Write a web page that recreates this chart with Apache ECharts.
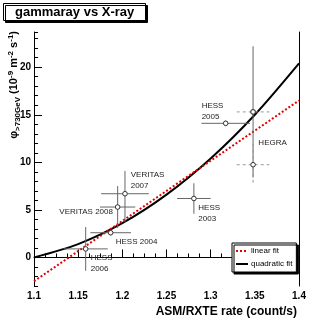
<!DOCTYPE html>
<html>
<head>
<meta charset="utf-8">
<script src="https://cdn.jsdelivr.net/npm/echarts@6/dist/echarts.min.js"></script>
<style>
html, body { margin: 0; padding: 0; background: #fff; }
#chart { width: 332px; height: 322px; }
</style>
</head>
<body>
<div id="chart"></div>
<script>
// fitted curves
const linX = [1.1, 1.4];
const linY = [-2.5, 16.5];
const quadX = [1.1, 1.15, 1.2, 1.25, 1.3, 1.35, 1.4];
const quadY = [0.0, 1.4, 3.6, 6.6, 10.4, 15.0, 20.4];

// measurements, solid error bars
const ptX    = [1.1585, 1.1868, 1.1947, 1.203, 1.281, 1.317, 1.348];
const ptY    = [0.9, 2.6, 5.3, 6.7, 6.2, 14.1, 15.3];
const ptXErr = [0.025, 0.023, 0.02, 0.027, 0.019, 0.0275, 0];
const ptYLo  = [2.3, 0.3, 2.2, 3.0, 1.6, 0.3, 6.9];
const ptYHi  = [2.3, 0.3, 2.2, 2.4, 1.6, 0.3, 6.9];

// HEGRA, dashed error bars
const hegX    = [1.348, 1.348];
const hegY    = [9.75, 15.3];
const hegXErr = [0.0185, 0.0185];
const hegYErr = [2.2, 0];

// point labels: x, y of first line, text, alignment
const notes = [
  [1.2898, 15.9, 'HESS\n2005', 'left'],
  [1.354, 12.1, 'HEGRA', 'left'],
  [1.2095, 8.7, 'VERITAS\n2007', 'left'],
  [1.1894, 4.75, 'VERITAS 2008', 'right'],
  [1.1925, 1.6, 'HESS 2004', 'left'],
  [1.1642, 0.0, 'HESS\n2006', 'left'],
  [1.286, 5.2, 'HESS\n2003', 'left']
];

const xTicks = [1.1, 1.15, 1.2, 1.25, 1.3, 1.35, 1.4];
const yTicks = [0, 5, 10, 15, 20];

const FONT = 'Liberation Sans';

function errorBars(dashed, color) {
  return function (params, api) {
    const x = api.value(0), y = api.value(1);
    const xe = api.value(2), ylo = api.value(3), yhi = api.value(4);
    const c = api.coord([x, y]);
    const l = api.coord([x - xe, y]);
    const r = api.coord([x + xe, y]);
    const t = api.coord([x, y + yhi]);
    const b = api.coord([x, y - ylo]);
    const st = { stroke: color, lineWidth: 1, lineDash: dashed ? [3, 3] : null };
    const kids = [];
    if (xe > 0) kids.push({ type: 'line', shape: { x1: l[0], y1: c[1], x2: r[0], y2: c[1] }, style: st });
    if (ylo > 0 || yhi > 0) kids.push({ type: 'line', shape: { x1: c[0], y1: t[1], x2: c[0], y2: b[1] }, style: st });
    kids.push({ type: 'circle', shape: { cx: c[0], cy: c[1], r: 2.3 }, style: { fill: '#fff', stroke: '#333', lineWidth: 1 } });
    return { type: 'group', children: kids };
  };
}

const chart = echarts.init(document.getElementById('chart'));
chart.setOption({
  animation: false,
  backgroundColor: '#fff',
  title: {
    text: 'gammaray vs X-ray',
    left: 3, top: 3,
    padding: [2, 12, 2, 12],
    borderColor: '#000', borderWidth: 1,
    backgroundColor: '#fff',
    shadowColor: '#000', shadowOffsetX: 2, shadowOffsetY: 2, shadowBlur: 0,
    textStyle: { fontFamily: FONT, fontSize: 13, fontWeight: 'bold', color: '#000', lineHeight: 14 }
  },
  legend: {
    orient: 'vertical',
    left: 232, top: 243,
    padding: [4, 4, 4, 3],
    itemGap: 5,
    itemWidth: 12, itemHeight: 8,
    backgroundColor: '#fff',
    borderColor: '#000', borderWidth: 1, borderRadius: 0,
    shadowColor: '#000', shadowOffsetX: 2, shadowOffsetY: 2, shadowBlur: 0,
    itemStyle: { opacity: 0 },
    textStyle: { fontFamily: FONT, fontSize: 8, color: '#000', padding: [0, 0, 0, -2] },
    data: ['linear fit', 'quadratic fit']
  },
  grid: { left: 34, right: 33, top: 32, bottom: 36, outerBoundsMode: 'none' },
  xAxis: {
    type: 'value',
    min: 1.1, max: 1.4, interval: 0.05,
    axisLine: { show: true, lineStyle: { color: '#000', width: 1 } },
    axisTick: { show: true, inside: true, length: 8, lineStyle: { color: '#000' }, customValues: xTicks },
    minorTick: { show: true, splitNumber: 4, length: 4, lineStyle: { color: '#000' } },
    axisLabel: { customValues: xTicks, margin: 5, fontFamily: FONT, fontSize: 10, fontWeight: 'bold', color: '#000',
      formatter: v => String(+v.toFixed(2)) },
    splitLine: { show: false }
  },
  yAxis: [
    {
      type: 'value', min: -3, max: 23.7, position: 'left',
      axisLine: { show: true, lineStyle: { color: '#000', width: 1 } },
      axisTick: { show: true, inside: true, length: 8, lineStyle: { color: '#000' }, customValues: yTicks },
      axisLabel: { customValues: yTicks, margin: 3, fontFamily: FONT, fontSize: 10, fontWeight: 'bold', color: '#000' },
      splitLine: { show: false }
    },
    {
      type: 'value', min: -3, max: 23.7, interval: 1, position: 'left',
      axisLine: { show: false },
      axisTick: { show: true, inside: true, length: 4, lineStyle: { color: '#000' } },
      axisLabel: { show: false },
      splitLine: { show: false }
    },
    {
      type: 'value', min: -3, max: 23.7, position: 'right',
      axisLine: { show: true, lineStyle: { color: '#000', width: 1 } },
      axisTick: { show: false }, axisLabel: { show: false }, splitLine: { show: false }
    }
  ],
  graphic: [
    {
      type: 'text', x: 14, y: 31, rotation: Math.PI / 2,
      style: {
        text: '{n|φ}{sub|>730GeV}{n| (10}{sup|-9}{n| m}{sup|-2}{n| s}{sup|-1}{n|)}',
        align: 'right', verticalAlign: 'middle',
        rich: {
          n: { fontFamily: FONT, fontSize: 11, fontWeight: 'bold', color: '#000', lineHeight: 15, verticalAlign: 'middle' },
          sub: { fontFamily: FONT, fontSize: 8, fontWeight: 'bold', color: '#000', lineHeight: 15, verticalAlign: 'bottom' },
          sup: { fontFamily: FONT, fontSize: 8, fontWeight: 'bold', color: '#000', lineHeight: 15, verticalAlign: 'top' }
        }
      }
    },
    {
      type: 'text', x: 297, y: 312,
      style: {
        text: 'ASM/RXTE rate (count/s)', align: 'right', verticalAlign: 'middle',
        fontFamily: FONT, fontSize: 12, fontWeight: 'bold', fill: '#000'
      }
    }
  ],
  series: [
    {
      name: 'linear fit', type: 'line', showSymbol: false, symbol: 'none',
      data: linX.map((x, i) => [x, linY[i]]),
      lineStyle: { color: '#e00000', width: 2, type: [2, 2] },
      itemStyle: { color: '#e00000' }, z: 3
    },
    {
      name: 'quadratic fit', type: 'line', showSymbol: false, symbol: 'none', smooth: 0.3,
      data: quadX.map((x, i) => [x, quadY[i]]),
      lineStyle: { color: '#000', width: 2 },
      itemStyle: { color: '#000' }, z: 2
    },
    {
      type: 'custom', z: 4,
      data: ptX.map((x, i) => [x, ptY[i], ptXErr[i], ptYLo[i], ptYHi[i]]),
      renderItem: errorBars(false, '#666')
    },
    {
      type: 'custom', z: 4,
      data: hegX.map((x, i) => [x, hegY[i], hegXErr[i], hegYErr[i], hegYErr[i]]),
      renderItem: errorBars(true, '#999')
    },
    {
      type: 'custom', z: 5, silent: true,
      data: notes.map(n => [n[0], n[1]]),
      renderItem: function (params, api) {
        const n = notes[params.dataIndex];
        const p = api.coord([n[0], n[1]]);
        return {
          type: 'text', x: p[0], y: p[1] - 5.5,
          style: { text: n[2], align: n[3], verticalAlign: 'top', lineHeight: 11,
            fontFamily: FONT, fontSize: 8, fill: '#222' }
        };
      }
    }
  ]
});
</script>
</body>
</html>
